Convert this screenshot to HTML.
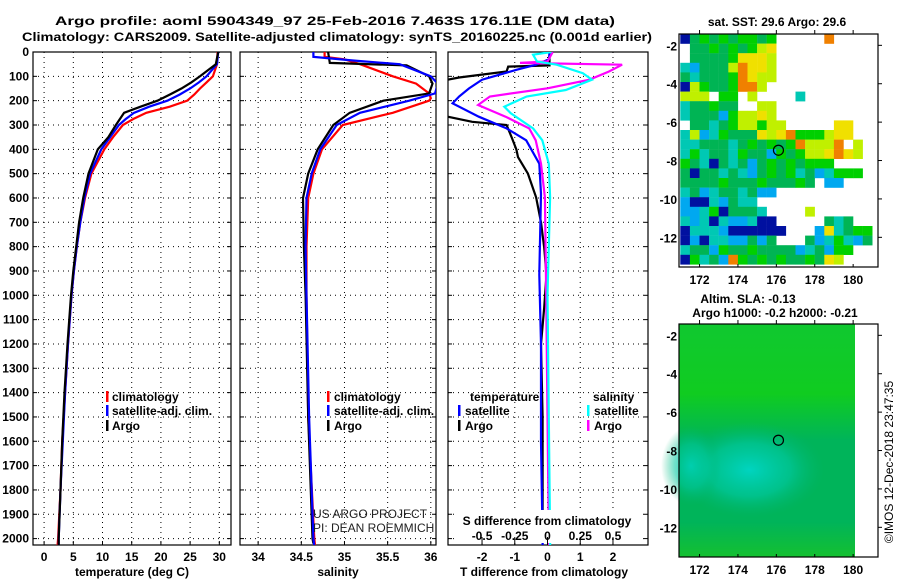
<!DOCTYPE html>
<html><head><meta charset="utf-8">
<style>
html,body{margin:0;padding:0;background:#fff;}
svg{display:block;font-family:"Liberation Sans",sans-serif;}
.b{font-weight:bold;font-size:12px;}
</style></head>
<body>
<svg id="chart" width="900" height="580" viewBox="0 0 900 580" xmlns="http://www.w3.org/2000/svg">
<rect width="900" height="580" fill="#fff"/>
<text x="55" y="25" class="b" font-size="13" textLength="560" lengthAdjust="spacingAndGlyphs">Argo profile: aoml 5904349_97 25-Feb-2016 7.463S 176.11E (DM data)</text>
<text x="22" y="41" class="b" font-size="13" textLength="630" lengthAdjust="spacingAndGlyphs">Climatology: CARS2009. Satellite-adjusted climatology: synTS_20160225.nc (0.001d earlier)</text>
<g id="plots"></g>
</svg>
<script>
// ---- Profile data (depth in dbar) ----
const tempDepth=[0,50,100,125,150,175,200,225,250,275,300,350,400,500,600,700,800,900,1000,1200,1400,1600,1800,2000,2030];
const argoTemp=[29.8,29.4,26.7,25.2,23.5,21.5,19.4,16.5,13.7,13.0,12.3,11.0,9.2,7.6,6.7,6.0,5.5,5.0,4.6,4.0,3.5,3.1,2.8,2.5,2.5];
const satTemp=[29.8,29.6,27.8,26.5,25.0,23.2,21.1,18.0,15.4,14.0,12.8,11.3,9.8,7.9,6.9,6.2,5.6,5.1,4.7,4.1,3.6,3.2,2.8,2.5,2.5];
const climTemp=[29.7,29.6,28.9,27.8,26.7,25.7,24.5,21.5,17.5,15.3,13.5,11.8,10.3,8.1,7.0,6.2,5.6,5.1,4.7,4.1,3.6,3.1,2.8,2.4,2.3];

const argoSalDepth=[0,45,55,100,130,170,200,250,300,400,500,600,800,1000,1500,2000,2020];
const argoSal=[34.81,34.83,35.72,35.98,36.02,35.98,35.45,35.06,34.87,34.69,34.58,34.52,34.53,34.55,34.58,34.63,34.64];
const satSalDepth=[0,20,35,50,100,130,170,200,250,300,400,500,600,800,1000,1500,2000,2030];
const satSal=[34.64,34.64,35.1,35.64,36.0,36.08,36.05,35.75,35.18,34.91,34.72,34.62,34.56,34.55,34.56,34.59,34.64,34.65];
const climSalDepth=[0,20,30,50,100,130,170,190,200,250,300,400,500,600,800,1000,1500,2000,2030];
const climSal=[34.77,34.77,35.0,35.18,35.56,35.83,35.98,36.0,35.98,35.56,34.98,34.74,34.64,34.58,34.56,34.56,34.58,34.65,34.66];

const argoTdDepth=[0,55,60,80,105,118,262,287,300,349,401,432,500,597,700,804,915,1050,1200,1500,1800,2000,2020];
const argoTdiff=[0.06,0.06,-1.2,-1.25,-2.7,-3.2,-3.2,-2.3,-1.25,-1.1,-0.95,-0.9,-0.6,-0.35,-0.2,-0.1,-0.03,-0.1,-0.2,-0.15,-0.15,-0.15,-0.15];
const satTdDepth=[0,30,52,73,114,150,183,211,266,314,363,459,583,915,1200,1600,2000,2030];
const satTdiff=[0.06,0.05,-0.35,-0.95,-2.0,-2.4,-2.7,-2.9,-2.1,-1.25,-0.65,-0.25,-0.2,-0.25,-0.2,-0.2,-0.15,-0.15];
const argoSdDepth=[0,39,45,52,80,114,149,183,218,266,314,363,459,597,1000,1500,2000,2030];
const argoSdiff=[0.04,0.0,-0.21,0.57,0.47,0.32,0.0,-0.44,-0.53,-0.32,-0.14,-0.09,-0.05,-0.02,-0.01,0,0.01,0.01];
const satSdDepth=[0,11,39,52,87,114,156,183,225,252,314,363,459,597,1000,1500,2000,2030];
const satSdiff=[0.03,-0.11,-0.08,0.07,0.27,0.34,0.14,-0.16,-0.33,-0.28,-0.11,-0.04,0.01,0.02,0.0,0.01,0.02,0.02];

const depthTicks=[0,100,200,300,400,500,600,700,800,900,1000,1100,1200,1300,1400,1500,1600,1700,1800,1900,2000];
const tempTicks=[0,5,10,15,20,25,30];
const salTicks=[34,34.5,35,35.5,36];
const salTickLabels=["34","34.5","35","35.5","36"];
const tdTicks=[-2,-1,0,1,2];
const sdTicks=[-0.5,-0.25,0,0.25,0.5];
const sdTickLabels=["-0.5","-0.25","0","0.25","0.5"];
const lonTicks=[172,174,176,178,180];
const latTicks=[-2,-4,-6,-8,-10,-12];

// SST mosaic (0.5 deg cells, from 171E, -1.4)
const sstRows=[
"BGgGgGggGg.....o.....",
".GGgGgGgyY...........",
".GGGGgYYYy...........",
"cbGGGyoYYy...........",
"GcGGGgoYyy...........",
"BygGGgooy............",
"yyy.gg.y....c........",
"cGGgGG..yy...........",
"cGGGbgyyYy...........",
".GGcGgyygyy.....YY...",
"cybcgGGGYyYogggyYY...",
"ccGGGcGgGgGgoyyyo.y..",
"cgcGGcgGGbgGgyyYoYy..",
"gGcBGcGbGgGgGggg.....",
"GBGGcGcbGgGgcGbcggg..",
"GGGGgGGGgGGGgG.bb....",
"cGbcGGcGbb...........",
"bBBcbGcc.............",
"bbcgBGGGc....y.......",
"cbcBcbbcBB.....GcG...",
"BcccbBBBBBB...bYcGgg.",
"BbBccbbGbG...GbcgcbG.",
"cGGbgGGgGGGGbcGbgg...",
"BgcGbogGgGgGGgGYy...."];
const sstColors={g:"#00d000",G:"#00b454",c:"#00c8b4",b:"#00a8f0",B:"#0010a0",y:"#c0f000",Y:"#f0e000",o:"#f08000"};

const NS="http://www.w3.org/2000/svg";
const root=document.getElementById('plots');
function el(tag,attrs,parent){const e=document.createElementNS(NS,tag);for(const k in attrs)e.setAttribute(k,attrs[k]);(parent||root).appendChild(e);return e;}

const PT=52,PB=545;
const yD=d=>PT+d*0.2433;
const panels=[
 {name:'temperature',x0:33,x1:231,v0:-1.9,v1:32.0},
 {name:'salinity',x0:240,x1:436,v0:33.79,v1:36.06},
 {name:'difference',x0:448,x1:648,v0:-3.04,v1:3.07}
];
function scaleX(p){return v=>p.x0+(v-p.v0)/(p.v1-p.v0)*(p.x1-p.x0);}
const xT=scaleX(panels[0]),xS=scaleX(panels[1]),xTd=scaleX(panels[2]);
const xSd=v=>xTd(v*4);

function drawPanel(p,ticks,labels,xf,idx){
  const g=el('g',{});
  
  
  const cp=el('clipPath',{id:'cp'+idx},g);
  el('rect',{x:p.x0,y:PT,width:p.x1-p.x0,height:PB-PT},cp);
  depthTicks.forEach(d=>{
    const l=el('line',{x1:p.x0,x2:p.x1,y1:yD(d),y2:yD(d),stroke:'#000','stroke-width':1,'stroke-dasharray':'1,4'},g);
    
    
    el('line',{x1:p.x0,x2:p.x0+4,y1:yD(d),y2:yD(d),stroke:'#000'},g);
    el('line',{x1:p.x1-4,x2:p.x1,y1:yD(d),y2:yD(d),stroke:'#000'},g);
  });
  ticks.forEach((t,i)=>{
    const x=xf(t);
    el('line',{x1:x,x2:x,y1:PT,y2:PB,stroke:'#000','stroke-width':1,'stroke-dasharray':'1,4'},g);
    el('line',{x1:x,x2:x,y1:PB,y2:PB-4,stroke:'#000'},g);
    const tx=el('text',{x:x,y:561,'text-anchor':'middle',class:'b'},g);
    tx.textContent=labels[i];
    
    
  });
  el('rect',{x:p.x0,y:PT,width:p.x1-p.x0,height:PB-PT,fill:'none',stroke:'#000','stroke-width':1.2},g);
  return g;
}
function line(g,idx,depths,vals,xf,color,name){
  const pts=depths.map((d,i)=>xf(vals[i]).toFixed(1)+','+yD(d).toFixed(1)).join(' ');
  const pl=el('polyline',{points:pts,fill:'none',stroke:color,'stroke-width':2.2,'clip-path':'url(#cp'+idx+')'},g);
  
  
}
function text(g,x,y,s,name,extra){
  const t=el('text',Object.assign({x:x,y:y,class:'b'},extra||{}),g);
  t.textContent=s;
  
  
  return t;
}
function marker(g,x,y,color){
  const r=el('rect',{x:x,y:y-10,width:2.5,height:11,fill:color},g);
  
  
}

// depth labels
depthTicks.forEach(d=>{
  const t=el('text',{x:29,y:yD(d)+4,'text-anchor':'end',class:'b'});
  t.textContent=String(d);
  
  
});

// Panel 1
const g1=drawPanel(panels[0],tempTicks,tempTicks.map(String),xT,0);
line(g1,0,tempDepth,climTemp,xT,'#ff0000','climatology-temperature-line');
line(g1,0,tempDepth,satTemp,xT,'#0000ff','satellite-temperature-line');
line(g1,0,tempDepth,argoTemp,xT,'#000000','argo-temperature-line');
text(g1,132,576,'temperature (deg C)','x-axis-title',{'text-anchor':'middle'});
marker(g1,106,401,'#ff0000');text(g1,112,401,'climatology','legend-entry');
marker(g1,106,415,'#0000ff');text(g1,112,415,'satellite-adj. clim.','legend-entry');
marker(g1,106,430,'#000');text(g1,112,430,'Argo','legend-entry');

// Panel 2
const g2=drawPanel(panels[1],salTicks,salTickLabels,xS,1);
line(g2,1,climSalDepth,climSal,xS,'#ff0000','climatology-salinity-line');
line(g2,1,argoSalDepth,argoSal,xS,'#000000','argo-salinity-line');
line(g2,1,satSalDepth,satSal,xS,'#0000ff','satellite-salinity-line');
text(g2,338,576,'salinity','x-axis-title',{'text-anchor':'middle'});
marker(g2,327,401,'#ff0000');text(g2,334,401,'climatology','legend-entry');
marker(g2,327,415,'#0000ff');text(g2,334,415,'satellite-adj. clim.','legend-entry');
marker(g2,327,430,'#000');text(g2,334,430,'Argo','legend-entry');
const c1=text(g2,313,518,'US ARGO PROJECT','credit-text',{});c1.setAttribute('class','');c1.setAttribute('font-size','12');c1.setAttribute('fill','#222');
const c2=text(g2,313,532,'PI: DEAN ROEMMICH','credit-text',{});c2.setAttribute('class','');c2.setAttribute('font-size','12');c2.setAttribute('fill','#222');

// Panel 3
const g3=drawPanel(panels[2],tdTicks,tdTicks.map(String),xTd,2);
line(g3,2,argoTdDepth,argoTdiff,xTd,'#000000','argo-temperature-difference-line');
line(g3,2,satTdDepth,satTdiff,xTd,'#0000ff','satellite-temperature-difference-line');
line(g3,2,argoSdDepth,argoSdiff,xSd,'#ff00ff','argo-salinity-difference-line');
line(g3,2,satSdDepth,satSdiff,xSd,'#00ffff','satellite-salinity-difference-line');
el('rect',{x:456,y:510,width:185,height:33,fill:'#fff'},g3);
sdTicks.forEach((t,i)=>{
  const x=xSd(t);
  el('line',{x1:x,x2:x,y1:537,y2:545,stroke:'#000'},g3);
  text(g3,x,540,sdTickLabels[i],'s-diff-tick-label',{'text-anchor':'middle'});
});
text(g3,547,525,'S difference from climatology','s-diff-axis-title',{'text-anchor':'middle'});
text(g3,544,576,'T difference from climatology','x-axis-title',{'text-anchor':'middle'});
text(g3,470,401,'temperature','legend-title');
marker(g3,458,415,'#0000ff');text(g3,465,415,'satellite','legend-entry');
marker(g3,458,430,'#000');text(g3,465,430,'Argo','legend-entry');
text(g3,593,401,'salinity','legend-title');
marker(g3,587,415,'#00ffff');text(g3,594,415,'satellite','legend-entry');
marker(g3,587,430,'#ff00ff');text(g3,594,430,'Argo','legend-entry');

// ---- Maps ----
const MX0=679,MX1=878;
const lonX=l=>MX0+(l-170.93)*19.2;
function mapAxes(g,top,bot,latY){
  el('rect',{x:MX0,y:top,width:MX1-MX0,height:bot-top,fill:'none',stroke:'#000','stroke-width':1.2},g);
  lonTicks.forEach(l=>{
    const x=lonX(l);
    el('line',{x1:x,x2:x,y1:top,y2:top-4,stroke:'#000'},g);
    el('line',{x1:x,x2:x,y1:bot,y2:bot-3,stroke:'#000'},g);
    text(g,x,bot+17,String(l),'map-lon-label',{'text-anchor':'middle','font-size':'13'});
  });
  latTicks.forEach(la=>{
    const y=latY(la);
    el('line',{x1:MX1,x2:MX1+4,y1:y,y2:y,stroke:'#000'},g);
    text(g,677,y+5,String(la),'map-lat-label',{'text-anchor':'end','font-size':'13'});
  });
}
// Top map
const gm1=el('g',{});


const lat1=la=>34+(-1.41-la)*19.2;
const cpm=el('clipPath',{id:'cpm1'},gm1);el('rect',{x:MX0,y:34,width:MX1-MX0,height:233},cpm);
const cellG=el('g',{'clip-path':'url(#cpm1)'},gm1);
sstRows.forEach((row,r)=>{
  for(let c=0;c<row.length;c++){
    const ch=row[c]; if(!sstColors[ch]) continue;
    const x=lonX(171+0.5*c), y=lat1(-1.41-0.5*r);
    const cell=el('rect',{x:x.toFixed(1),y:y.toFixed(1),width:9.8,height:9.8,fill:sstColors[ch]},cellG);
    
    
  }
});
el('circle',{cx:lonX(176.11),cy:lat1(-7.463),r:5,fill:'none',stroke:'#000','stroke-width':1.2},gm1);
mapAxes(gm1,34,267,lat1);
text(gm1,777,26,'sat. SST: 29.6 Argo: 29.6','sst-map-title',{'text-anchor':'middle','font-size':'13'});

// Bottom map
const gm2=el('g',{});


const lat2=la=>324+(-1.41-la)*19.2;
const defs=el('defs',{},gm2);
const lg=el('linearGradient',{id:'slaLin',x1:0,y1:0,x2:0,y2:1},defs);
el('stop',{offset:'0','stop-color':'#10c830'},lg);
el('stop',{offset:'0.3','stop-color':'#10cc20'},lg);
el('stop',{offset:'0.5','stop-color':'#00b45a'},lg);
el('stop',{offset:'0.85','stop-color':'#00b45a'},lg);
el('stop',{offset:'1','stop-color':'#14c030'},lg);
const rg=el('radialGradient',{id:'slaRad',cx:0.5,cy:0.5,r:0.5},defs);
el('stop',{offset:'0','stop-color':'#00d4c0','stop-opacity':'1'},rg);
el('stop',{offset:'0.55','stop-color':'#00c8a0','stop-opacity':'0.7'},rg);
el('stop',{offset:'1','stop-color':'#00b470','stop-opacity':'0'},rg);
const slaBg=el('rect',{x:MX0,y:324,width:176,height:233,fill:'url(#slaLin)'},gm2);


el('ellipse',{cx:lonX(174.6),cy:lat2(-9),rx:75,ry:48,fill:'url(#slaRad)'},gm2);
el('ellipse',{cx:MX0+12,cy:lat2(-8.8),rx:30,ry:40,fill:'url(#slaRad)',opacity:0.8},gm2);
el('circle',{cx:lonX(176.11),cy:lat2(-7.463),r:5,fill:'none',stroke:'#000','stroke-width':1.2},gm2);
mapAxes(gm2,324,557,lat2);
text(gm2,748,303,'Altim. SLA: -0.13','sla-map-title',{'text-anchor':'middle','font-size':'13'});
text(gm2,775,317,'Argo h1000: -0.2 h2000: -0.21','sla-map-subtitle',{'text-anchor':'middle','font-size':'13'});
const imos=el('text',{x:0,y:0,'font-size':'12',transform:'translate(893,462) rotate(-90)','text-anchor':'middle'});
imos.textContent='©IMOS 12-Dec-2018 23:47:35';


</script>
</body></html>
